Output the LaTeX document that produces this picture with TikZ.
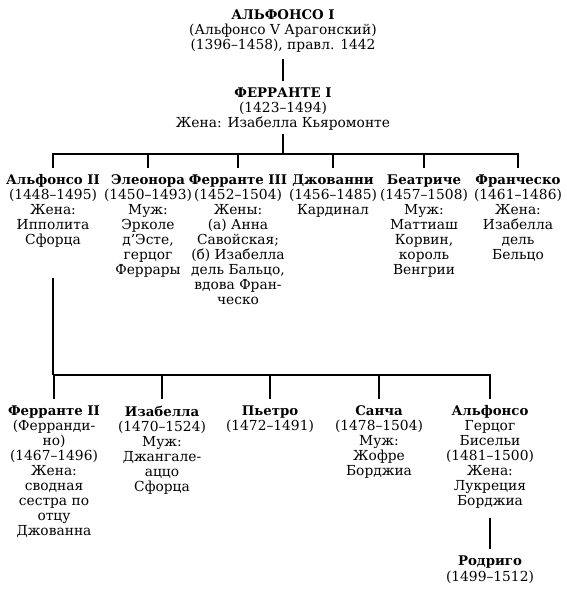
\documentclass[tikz,border=0pt]{standalone}
\usepackage{fontspec}
\setmainfont{DejaVu Serif}
\newcommand\nm[1]{{\fontsize{13.3}{15}\selectfont\bfseries #1}}
\begin{document}
\begin{tikzpicture}[x=1pt,y=-1pt,
  person/.style={anchor=north,inner sep=0pt,align=center,font=\fontsize{13.8}{15}\selectfont},
  link/.style={line width=1.3pt,black}]
\useasboundingbox (0,0) rectangle (566,600);
% top
\node[person] (a1) at (283,9.5) {\nm{АЛЬФОНСО I}\\(Альфонсо V Арагонский)\\(1396–1458), правл. 1442};
\node[person] (f1) at (283,87.5) {\nm{ФЕРРАНТЕ I}\\(1423–1494)\\Жена: Изабелла Кьяромонте};
% children
\node[person] (c1) at (53,174.5) {\nm{Альфонсо II}\\(1448–1495)\\Жена:\\Ипполита\\Сфорца};
\node[person] (c2) at (148,174.5) {\nm{Элеонора}\\(1450–1493)\\Муж:\\Эрколе\\д'Эсте,\\герцог\\Феррары};
\node[person] (c3) at (238,174.5) {\nm{Ферранте III}\\(1452–1504)\\Жены:\\(а) Анна\\Савойская;\\(б) Изабелла\\дель Бальцо,\\вдова Фран-\\ческо};
\node[person] (c4) at (333,174.5) {\nm{Джованни}\\(1456–1485)\\Кардинал};
\node[person] (c5) at (424,174.5) {\nm{Беатриче}\\(1457–1508)\\Муж:\\Маттиаш\\Корвин,\\король\\Венгрии};
\node[person] (c6) at (518,174.5) {\nm{Франческо}\\(1461–1486)\\Жена:\\Изабелла\\дель\\Бельцо};
% grandchildren
\node[person] (g1) at (54,405.5) {\nm{Ферранте II}\\(Ферранди-\\но)\\(1467–1496)\\Жена:\\сводная\\сестра по\\отцу\\Джованна};
\node[person] (g2) at (162,405.5) {\nm{Изабелла}\\(1470–1524)\\Муж:\\Джангале-\\аццо\\Сфорца};
\node[person] (g3) at (270,405.5) {\nm{Пьетро}\\(1472–1491)};
\node[person] (g4) at (379,405.5) {\nm{Санча}\\(1478–1504)\\Муж:\\Жофре\\Борджиа};
\node[person] (g5) at (490,405.5) {\nm{Альфонсо}\\Герцог\\Бисельи\\(1481–1500)\\Жена:\\Лукреция\\Борджиа};
\node[person,font=\fontsize{13.8}{16}\selectfont] (r) at (490,555.5) {\nm{Родриго}\\(1499–1512)};
% connectors
\coordinate (bus1) at (283,154);
\coordinate (bus2) at (53,375);
\draw[link] ([yshift=-6pt]a1.south) -- ([yshift=7pt]f1.north);
\draw[link] ([yshift=-4pt]f1.south) -- (bus1);
\foreach \c in {c1,c2,c3,c4,c5,c6}{
  \draw[link] (bus1) -| ([yshift=7pt]\c.north);
}
\draw[link] ([yshift=-30pt]c1.south) -- (bus2);
\foreach \g in {g1,g2,g3,g4,g5}{
  \draw[link] (bus2) -| ([yshift=7pt]\g.north);
}
\draw[link] ([yshift=-9pt]g5.south) -- ([yshift=7pt]r.north);
\end{tikzpicture}
\end{document}
